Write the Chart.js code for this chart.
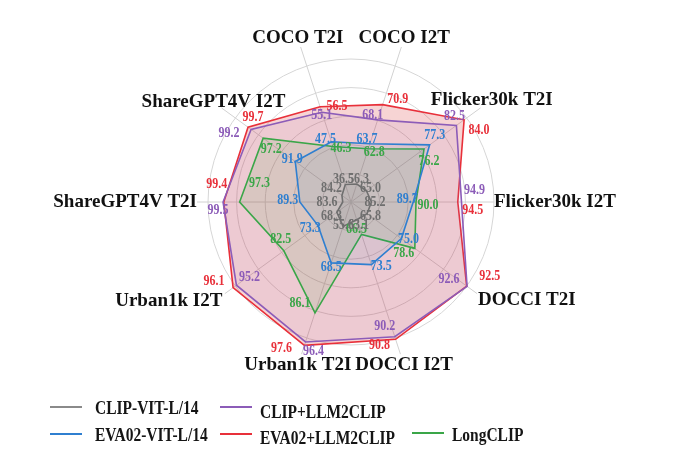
<!DOCTYPE html>
<html>
<head>
<meta charset="utf-8">
<title>LLM2CLIP radar</title>
<script src="https://cdn.jsdelivr.net/npm/chart.js@4.4.0/dist/chart.umd.min.js"></script>
<style>
  body { margin: 0; background: #fff; }
  #wrap { position: relative; width: 700px; height: 475px; }
  .lg-line { position: absolute; height: 2px; width: 32px; }
  .lg-text {
    position: absolute; font: bold 18px "Liberation Serif", "Times New Roman", serif;
    color: #151515; line-height: 22px; white-space: nowrap;
    transform: scaleX(0.86); transform-origin: left center;
  }
</style>
</head>
<body>
<div id="wrap">
  <canvas id="radarChart" width="700" height="475"></canvas>

  <div class="lg-line" style="left:50px; top:406px; background:#8a8a8a;"></div>
  <div class="lg-text" style="left:95px; top:397px;">CLIP-VIT-L/14</div>
  <div class="lg-line" style="left:220px; top:406px; background:#8c5cb8;"></div>
  <div class="lg-text" style="left:260px; top:401px;">CLIP+LLM2CLIP</div>

  <div class="lg-line" style="left:50px; top:433px; background:#2f7fd0;"></div>
  <div class="lg-text" style="left:95px; top:424px;">EVA02-VIT-L/14</div>
  <div class="lg-line" style="left:220px; top:433px; background:#e8303a;"></div>
  <div class="lg-text" style="left:260px; top:427px;">EVA02+LLM2CLIP</div>
  <div class="lg-line" style="left:412px; top:432px; background:#3aa648;"></div>
  <div class="lg-text" style="left:452px; top:424px;">LongCLIP</div>
</div>

<script>
// axes, clockwise starting just left of the top
var axisLabels = ['COCO T2I', 'COCO I2T', 'Flicker30k T2I', 'Flicker30k I2T', 'DOCCI T2I',
                  'DOCCI I2T', 'Urban1k T2I', 'Urban1k I2T', 'ShareGPT4V T2I', 'ShareGPT4V I2T'];

// scores per model
var clipVitL14    = [36.5, 56.3, 65.0, 85.2, 65.8, 63.1, 55.6, 68.3, 83.6, 84.2];
var eva02VitL14   = [47.5, 63.7, 77.3, 89.7, 75.0, 73.5, 68.5, 73.3, 89.3, 91.9];
var clipLlm2clip  = [55.1, 68.1, 82.5, 94.9, 92.6, 90.2, 96.4, 95.2, 99.5, 99.2];
var eva02Llm2clip = [56.5, 70.9, 84.0, 94.5, 92.5, 90.8, 97.6, 96.1, 99.4, 99.7];
var longClip      = [46.3, 62.8, 76.2, 90.0, 78.6, 66.5, 86.1, 82.5, 97.3, 97.2];

// every axis has its own range (centre -> outer ring)
var axisLo = [32, 53, 62, 83, 61.5, 59, 47, 64.5, 82.5, 82.7];
var axisHi = [67, 78, 84.5, 98.4, 92.5, 90.5, 95, 95.5, 101.5, 101.8];

// map a score onto the shared 0..100 radial scale
function toRadial(values) {
  return values.map(function (v, i) {
    return (v - axisLo[i]) / (axisHi[i] - axisLo[i]) * 100;
  });
}

// value-label nudges in px, so the numbers do not sit on top of each other
var grayShift   = null; // gray labels sit on a small ring round the centre
var blueShift   = [[-6, -3], [-3, -5], [5, -10], [-6, -3], [7, 1], [10, 2], [0, 4], [-8, 2], [-12, -2], [-3, -2]];
var greenShift  = [[8, 2], [6, 3], [5, 12], [12, 3], [-11, 5], [-5, -5], [-15, -10], [-3, -12], [20, -19], [8, 11]];
var purpleShift = [[0, 3], [-5, -5], [-2, -9], [13, -12], [-18, -7], [-10, -11], [8, 9], [13, -8], [-5, 8], [-22, 4]];
var redShift    = [[17, -1], [15, -5], [15, 10], [15, 8], [23, -10], [-16, 6], [-23, 3], [-19, -7], [-7, -18], [5, -10]];

// first entry is drawn on top
var series = [
  { name: 'CLIP-VIT-L/14',  raw: clipVitL14,    color: '#6f6f6f', fill: 'rgba(127,127,127,0.15)', shift: grayShift },
  { name: 'EVA02-VIT-L/14', raw: eva02VitL14,   color: '#2f7fd0', fill: 'rgba(31,119,180,0.09)',  shift: blueShift },
  { name: 'LongCLIP',       raw: longClip,      color: '#3aa648', fill: 'rgba(44,160,44,0.10)',   shift: greenShift },
  { name: 'CLIP+LLM2CLIP',  raw: clipLlm2clip,  color: '#8c5cb8', fill: 'rgba(148,103,189,0.10)', shift: purpleShift },
  { name: 'EVA02+LLM2CLIP', raw: eva02Llm2clip, color: '#e8303a', fill: 'rgba(214,39,40,0.20)',   shift: redShift }
];

// axis label placement (style only)
var labelAlign = ['center', 'center', 'center', 'left', 'left', 'center', 'center', 'right', 'right', 'center'];
var labelDist  = [172, 172, 174, 143, 157, 172, 172, 159, 154, 170];
var labelDy    = [0, 0, 0, 0, 6, 0, 0, 6, 0, 0];
var spokeLen   = [163, 163, 160, 143, 156, 160, 160, 156, 154, 160];

var radarDecor = {
  id: 'radarDecor',
  beforeDatasetsDraw: function (chart) {
    var r = chart.scales.r, ctx = chart.ctx;
    ctx.save();
    ctx.strokeStyle = '#d2d2d2';
    ctx.lineWidth = 1;
    axisLabels.forEach(function (_, i) {
      var p = r.getPointPosition(i, spokeLen[i]);
      ctx.beginPath();
      ctx.moveTo(r.xCenter, r.yCenter);
      ctx.lineTo(p.x, p.y);
      ctx.stroke();
    });
    ctx.restore();
  },
  afterDatasetsDraw: function (chart) {
    var r = chart.scales.r, ctx = chart.ctx;
    ctx.save();
    ctx.textBaseline = 'middle';

    // value labels
    ctx.font = 'bold 15px "Liberation Serif", serif';
    ctx.textAlign = 'center';
    for (var s = series.length - 1; s >= 0; s--) {
      var sr = series[s];
      var norm = toRadial(sr.raw);
      ctx.fillStyle = sr.color;
      sr.raw.forEach(function (v, i) {
        var p, dx = 0, dy = 0;
        if (sr.shift) {
          p = r.getPointPosition(i, r.getDistanceFromCenterForValue(norm[i]));
          dx = sr.shift[i][0];
          dy = sr.shift[i][1];
        } else {
          p = r.getPointPosition(i, 24);
        }
        ctx.save();
        ctx.translate(p.x + dx, p.y + dy);
        ctx.scale(0.8, 1);
        ctx.fillText(v.toFixed(1), 0, 0);
        ctx.restore();
      });
    }

    // axis labels
    ctx.font = 'bold 19px "Liberation Serif", serif';
    ctx.fillStyle = '#111';
    axisLabels.forEach(function (lab, i) {
      var p = r.getPointPosition(i, labelDist[i]);
      ctx.textAlign = labelAlign[i];
      ctx.fillText(lab, p.x, p.y + labelDy[i]);
    });
    ctx.restore();
  }
};

var radarData = {
  labels: axisLabels,
  datasets: series.map(function (sr) {
    return {
      label: sr.name,
      data: toRadial(sr.raw),
      borderColor: sr.color,
      backgroundColor: sr.fill,
      borderWidth: 1.6,
      pointRadius: 0,
      fill: true,
      clip: false
    };
  })
};

var radarConfig = {
  type: 'radar',
  data: radarData,
  options: {
    responsive: false,
    animation: false,
    layout: { padding: { top: 59, bottom: 130, left: 208, right: 206 } },
    plugins: {
      legend: { display: false },
      tooltip: { enabled: false }
    },
    elements: { line: { tension: 0 } },
    scales: {
      r: {
        min: 0,
        max: 100,
        startAngle: -18,
        ticks: { display: false, stepSize: 20 },
        grid: { circular: true, color: '#d6d6d6', lineWidth: 1 },
        angleLines: { display: false },
        pointLabels: { display: false }
      }
    }
  },
  plugins: [radarDecor]
};

var ctx = document.getElementById('radarChart').getContext('2d');
var radarChart = new Chart(ctx, radarConfig);
</script>
</body>
</html>
